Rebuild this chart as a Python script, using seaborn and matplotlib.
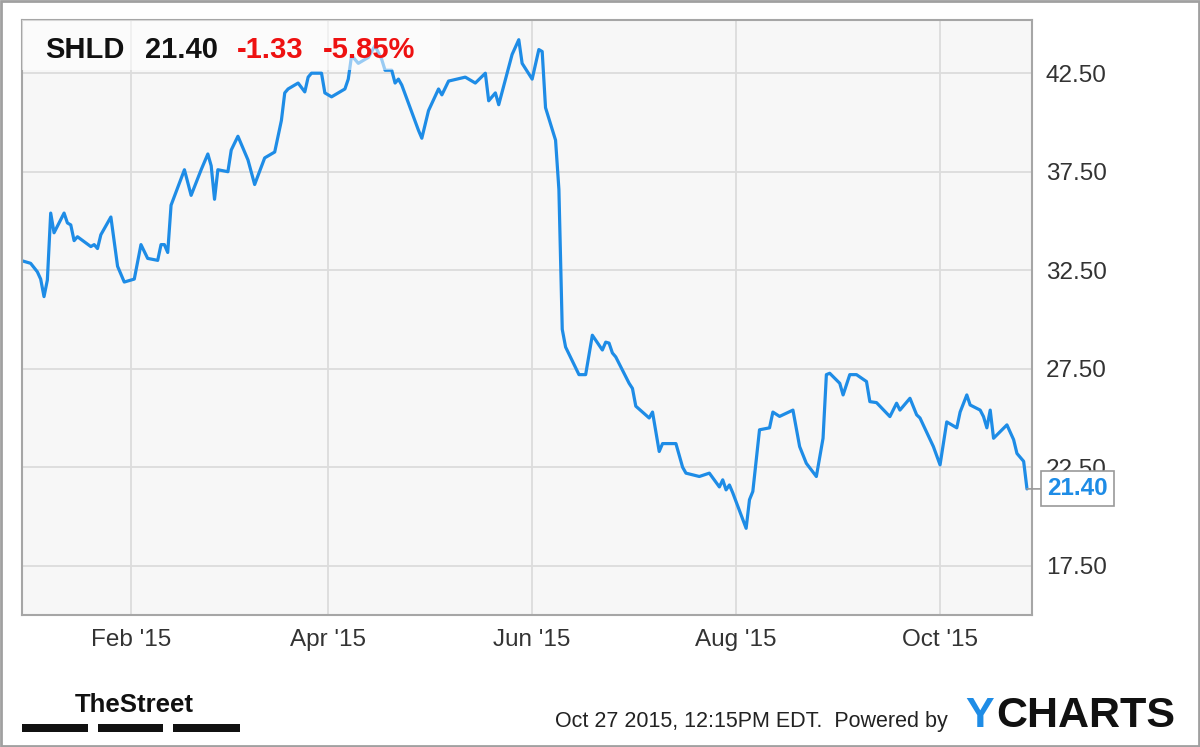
import pandas as pd
import matplotlib.pyplot as plt
import matplotlib.dates as mdates
from matplotlib.patches import Rectangle
import seaborn as sns

# SHLD daily close
dates = [
    "2014-12-30", "2015-01-02", "2015-01-04", "2015-01-05", "2015-01-06", "2015-01-07",
    "2015-01-08", "2015-01-09", "2015-01-12", "2015-01-13", "2015-01-14", "2015-01-15",
    "2015-01-16", "2015-01-20", "2015-01-21", "2015-01-22", "2015-01-23", "2015-01-26",
    "2015-01-28", "2015-01-30", "2015-02-02", "2015-02-04", "2015-02-06", "2015-02-09",
    "2015-02-10", "2015-02-11", "2015-02-12", "2015-02-13", "2015-02-17", "2015-02-19",
    "2015-02-22", "2015-02-24", "2015-02-25", "2015-02-26", "2015-02-27", "2015-03-02",
    "2015-03-03", "2015-03-05", "2015-03-08", "2015-03-10", "2015-03-13", "2015-03-16",
    "2015-03-17", "2015-03-18", "2015-03-19", "2015-03-20", "2015-03-23", "2015-03-25",
    "2015-03-26", "2015-03-27", "2015-03-30", "2015-03-31", "2015-04-02", "2015-04-06",
    "2015-04-07", "2015-04-08", "2015-04-10", "2015-04-13", "2015-04-15", "2015-04-17",
    "2015-04-18", "2015-04-20", "2015-04-21", "2015-04-22", "2015-04-23", "2015-04-28",
    "2015-04-29", "2015-05-01", "2015-05-04", "2015-05-05", "2015-05-07", "2015-05-12",
    "2015-05-15", "2015-05-18", "2015-05-19", "2015-05-21", "2015-05-22", "2015-05-26",
    "2015-05-28", "2015-05-29", "2015-06-01", "2015-06-03", "2015-06-04", "2015-06-05",
    "2015-06-08", "2015-06-09", "2015-06-10", "2015-06-11", "2015-06-15", "2015-06-17",
    "2015-06-19", "2015-06-22", "2015-06-23", "2015-06-24", "2015-06-25", "2015-06-26",
    "2015-06-30", "2015-07-01", "2015-07-02", "2015-07-06", "2015-07-07", "2015-07-09",
    "2015-07-10", "2015-07-14", "2015-07-16", "2015-07-17", "2015-07-21", "2015-07-24",
    "2015-07-27", "2015-07-28", "2015-07-29", "2015-07-30", "2015-07-31", "2015-08-04",
    "2015-08-05", "2015-08-06", "2015-08-08", "2015-08-11", "2015-08-12", "2015-08-14",
    "2015-08-18", "2015-08-20", "2015-08-22", "2015-08-25", "2015-08-27", "2015-08-28",
    "2015-08-29", "2015-09-01", "2015-09-02", "2015-09-04", "2015-09-06", "2015-09-09",
    "2015-09-10", "2015-09-12", "2015-09-16", "2015-09-18", "2015-09-19", "2015-09-22",
    "2015-09-24", "2015-09-25", "2015-09-29", "2015-10-01", "2015-10-03", "2015-10-06",
    "2015-10-07", "2015-10-09", "2015-10-10", "2015-10-13", "2015-10-14", "2015-10-15",
    "2015-10-16", "2015-10-17", "2015-10-21", "2015-10-23", "2015-10-24", "2015-10-26",
    "2015-10-27",
]
prices = [
    33.0, 32.85, 32.42, 32.05, 31.16, 32.0,
    35.4, 34.4, 35.4, 34.9, 34.8, 34.0,
    34.2, 33.7, 33.8, 33.6, 34.3, 35.2,
    32.7, 31.9, 32.05, 33.8, 33.1, 33.0,
    33.8, 33.8, 33.4, 35.8, 37.6, 36.3,
    37.6, 38.4, 37.8, 36.1, 37.6, 37.5,
    38.6, 39.3, 38.1, 36.85, 38.2, 38.5,
    39.3, 40.1, 41.5, 41.7, 42.0, 41.55,
    42.3, 42.5, 42.5, 41.5, 41.3, 41.7,
    42.2, 43.4, 43.0, 43.3, 43.9, 43.2,
    42.65, 42.65, 42.0, 42.2, 41.9, 39.6,
    39.2, 40.6, 41.7, 41.4, 42.1, 42.3,
    42.0, 42.5, 41.1, 41.5, 40.9, 43.45,
    44.2, 43.0, 42.2, 43.7, 43.6, 40.75,
    39.1, 36.6, 29.5, 28.6, 27.2, 27.2,
    29.2, 28.45, 28.85, 28.8, 28.3, 28.1,
    26.76, 26.5, 25.6, 25.0, 25.3, 23.3,
    23.7, 23.7, 22.5, 22.2, 22.03, 22.2,
    21.5, 21.86, 21.35, 21.6, 21.2, 19.4,
    20.85, 21.27, 24.4, 24.5, 25.3, 25.08,
    25.4, 23.55, 22.7, 22.03, 23.97, 27.2,
    27.27, 26.76, 26.17, 27.2, 27.2, 26.85,
    25.83, 25.78, 25.07, 25.75, 25.4, 26.0,
    25.16, 25.0, 23.55, 22.62, 24.8, 24.5,
    25.3, 26.17, 25.66, 25.4, 25.07, 24.5,
    25.4, 23.97, 24.65, 23.9, 23.2, 22.8,
    21.40,
]
price_ticks = [17.5, 22.5, 27.5, 32.5, 37.5, 42.5]
ticker = "SHLD"
change = -1.33
change_pct = -5.85

df = pd.DataFrame({"date": pd.to_datetime(dates), "price": prices})

sns.set_theme(style="whitegrid")
plt.rcParams["font.family"] = ["Liberation Sans", "DejaVu Sans"]

blue = "#1e8ce6"
fig = plt.figure(figsize=(12, 7.47), dpi=100)
fig.patch.set_facecolor("white")
ax = fig.add_axes([22 / 1200, 1 - 615 / 747, 1010 / 1200, 595 / 747])
ax.set_facecolor("#f7f7f7")

sns.lineplot(data=df, x="date", y="price", ax=ax, color=blue, linewidth=2.3)

ax.set_xlim(pd.Timestamp("2014-12-30 10:00"), pd.Timestamp("2015-10-28 12:00"))
ax.set_ylim(15.0, 45.2)
ax.xaxis.set_major_locator(mdates.MonthLocator(bymonth=[2, 4, 6, 8, 10]))
ax.xaxis.set_major_formatter(mdates.DateFormatter("%b '%y"))
ax.yaxis.tick_right()
ax.set_yticks(price_ticks)
ax.set_yticklabels([f"{t:.2f}" for t in price_ticks])
ax.set_xlabel("")
ax.set_ylabel("")
ax.tick_params(axis="both", length=0, labelsize=17.5, colors="#333333")
ax.tick_params(axis="x", pad=10)
ax.tick_params(axis="y", pad=10)
ax.grid(True, color="#dcdcdc", linewidth=1.3)
for s in ax.spines.values():
    s.set_visible(True)
    s.set_color("#a6a6a6")
    s.set_linewidth(1.5)

# faded header box over the line
ax.add_patch(Rectangle((0, 0.916), 0.414, 0.084, transform=ax.transAxes,
                       facecolor="white", alpha=0.55, edgecolor="none", zorder=5))

ty = 1 - 58 / 747
fig.text(45 / 1200, ty, ticker, fontsize=21, fontweight="bold", color="#111111", va="baseline")
fig.text(145 / 1200, ty, f"{prices[-1]:.2f}", fontsize=21, fontweight="bold", color="#111111", va="baseline")
fig.text(237 / 1200, ty, f"{change:.2f}", fontsize=21, fontweight="bold", color="#ee1111", va="baseline")
fig.text(323 / 1200, ty, f"{change_pct:.2f}%", fontsize=21, fontweight="bold", color="#ee1111", va="baseline")

# last value flag
ax.annotate(f"{prices[-1]:.2f}", xy=(df["date"].iloc[-1], prices[-1]),
            xytext=(20, 0), textcoords="offset pixels", ha="left", va="center",
            fontsize=17.5, fontweight="bold", color=blue, annotation_clip=False, zorder=6,
            bbox=dict(boxstyle="square,pad=0.25", fc="white", ec="#999999", lw=1.2),
            arrowprops=dict(arrowstyle="-", color="#999999", lw=1.2, shrinkA=0, shrinkB=0))

# footer
fy = 1 - 727 / 747
fig.text(555 / 1200, fy, "Oct 27 2015, 12:15PM EDT.  Powered by",
         fontsize=15.5, color="#222222", va="baseline")
fig.text(965 / 1200, fy, "Y", fontsize=31, fontweight="bold", color=blue, va="baseline")
fig.text(996 / 1200, fy, "CHARTS", fontsize=31, fontweight="bold", color="#111111", va="baseline")

fig.text(75 / 1200, 1 - 712 / 747, "TheStreet", fontsize=18.5, fontweight="bold", color="#111111",
         va="baseline")
for x0, x1 in [(22, 88), (98, 163), (173, 240)]:
    fig.patches.append(Rectangle((x0 / 1200, 1 - 732 / 747), (x1 - x0) / 1200, 8 / 747,
                                 transform=fig.transFigure, facecolor="#111111", edgecolor="none"))

fig.patches.append(Rectangle((0.001, 0.0015), 0.998, 0.997, transform=fig.transFigure,
                             facecolor="none", edgecolor="#a0a0a0", linewidth=2))

fig.savefig("out.png", dpi=100)
